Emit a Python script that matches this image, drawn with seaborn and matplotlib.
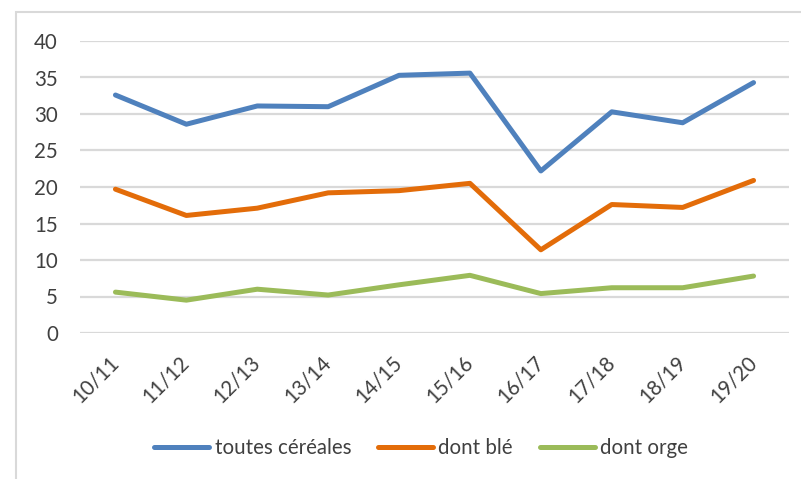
import matplotlib
matplotlib.use("Agg")
import matplotlib.pyplot as plt
import seaborn as sns
import pandas as pd
from matplotlib.patches import Rectangle

campagnes = ["10/11", "11/12", "12/13", "13/14", "14/15", "15/16", "16/17", "17/18", "18/19", "19/20"]
toutes_cereales = [32.6, 28.6, 31.1, 31.0, 35.3, 35.6, 22.2, 30.3, 28.8, 34.3]
dont_ble = [19.7, 16.1, 17.1, 19.2, 19.5, 20.5, 11.4, 17.6, 17.2, 20.9]
dont_orge = [5.6, 4.5, 6.0, 5.2, 6.6, 7.9, 5.4, 6.2, 6.2, 7.8]
series_names = ["toutes céréales", "dont blé", "dont orge"]
colors = ["#4F81BD", "#E36C09", "#9BBB59"]

rows = []
for name, vals in zip(series_names, [toutes_cereales, dont_ble, dont_orge]):
    for i, (c, v) in enumerate(zip(campagnes, vals)):
        rows.append({"pos": i, "campagne": c, "valeur": v, "serie": name})
df = pd.DataFrame(rows)

sns.set_theme(style="white")
plt.rcParams['font.family'] = ['Lato', 'DejaVu Sans']
txt = "#404040"
fs = 14.8

fig = plt.figure(figsize=(8.01, 4.79), dpi=100)
ax = fig.add_axes([80/801, 1-333/479, (789-80)/801, (333-41)/479])

sns.lineplot(data=df, x="pos", y="valeur", hue="serie", hue_order=series_names,
             palette=colors, linewidth=3.6, ax=ax, legend=True, sort=False,
             solid_capstyle="round", solid_joinstyle="round")

ax.set_xlim(-0.5, len(campagnes) - 0.5)
ax.set_ylim(0, 40)
ax.set_yticks(range(0, 41, 5))
ax.set_xticks(range(len(campagnes)))
ax.set_xticklabels(campagnes, rotation=45, ha="right", rotation_mode="anchor", va="center")
ax.tick_params(axis="x", length=0, pad=19, labelsize=fs, labelcolor=txt)
ax.tick_params(axis="y", length=0, pad=16, labelsize=fs, labelcolor=txt)
ax.yaxis.grid(True, color="#D9D9D9", linewidth=1.6)
ax.set_axisbelow(True)
for s in ax.spines.values():
    s.set_visible(False)
ax.set_xlabel("")
ax.set_ylabel("")

handles, labels = ax.get_legend_handles_labels()
ax.get_legend().remove()
for h in handles:
    h.set_linewidth(3.6)
    h.set_solid_capstyle("round")
leg = fig.legend(handles, labels, loc="center", bbox_to_anchor=(421/801, 1-448/479),
                 ncol=3, frameon=False, fontsize=fs, handlelength=2.7,
                 handletextpad=0.25, columnspacing=1.3, labelcolor=txt)

fig.patches.append(Rectangle((16/801, -0.2), 1.2, 0.2 + (1-12/479), transform=fig.transFigure,
                             fill=False, edgecolor="#D9D9D9", linewidth=1.5))

fig.savefig("out.png", dpi=100)
